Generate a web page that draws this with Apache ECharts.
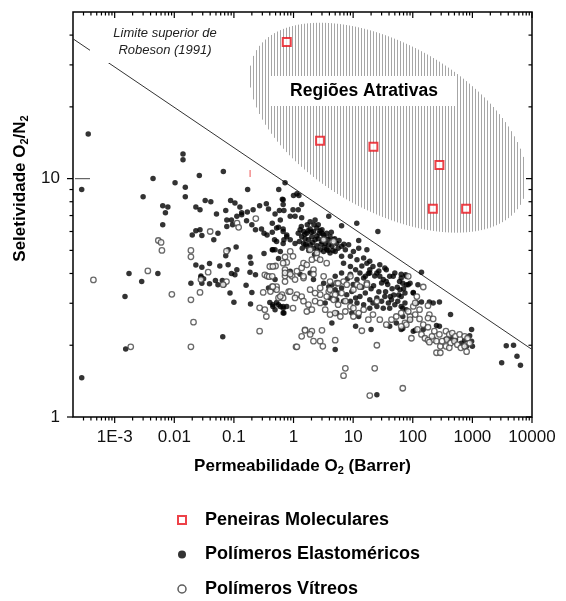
<!DOCTYPE html>
<html>
<head>
<meta charset="utf-8">
<script src="https://cdn.jsdelivr.net/npm/echarts@6/dist/echarts.min.js"></script>
<style>html,body{margin:0;padding:0;background:#fff}#c{width:566px;height:601px}</style>
</head>
<body>
<div id="c"></div>
<script>
// ---- axis ranges & tick labels ----
const xRange = [2e-4, 1e4];
const yRange = [1, 50];
const xTickLabels = {'-3':'1E-3','-2':'0.01','-1':'0.1','0':'1','1':'10','2':'100','3':'1000','4':'10000'};
const yTickLabels = {'0':'1','1':'10'};
const xMajorTicks = [1e-3, 1e-2, 1e-1, 1, 10, 100, 1000, 10000];
const yMajorTicks = [1, 10];

// ---- series names ----
const seriesNames = ['Peneiras Moleculares', 'Polímeros Elastoméricos', 'Polímeros Vítreos'];

// ---- Peneiras Moleculares (red squares) ----
const peneiras = [[0.77,37.4],[2.79,14.4],[21.9,13.6],[280,11.4],[217,7.48],[785,7.48]];

// ---- Robeson (1991) upper bound line endpoints ----
const robeson = [[2e-4,38.6],[1e4,1.92]];

// ---- "Regiões Atrativas" ellipse centre (data coords) ----
const regiaoCentro = [[38.6,16.35]];

// ---- small red mark ----
const marcaVermelha = [[0.187,10.5]];

// ---- Polímeros Elastoméricos (filled) ----
const elastomeros = [
[0.014,12.7],[0.014,12.0],[0.0044,10.0],[0.0103,9.6],[0.0153,9.2],[0.0153,8.4],[0.0263,10.3],[0.0665,10.7],[0.003,8.4],[2.8e-4,9.0],[2.8e-4,1.46],[3.6e-4,15.4],
[0.0064,7.7],[0.0078,7.6],[0.0071,7.2],[0.0064,6.4],[0.00174,4.0],[0.00284,3.7],[0.00149,3.2],[0.0053,4.0],[0.00153,1.93],[0.065,2.17],[0.17,9.0],[0.72,9.6],[0.565,9.0],
[0.033,8.1],[0.041,8.0],[0.023,7.6],[0.027,7.4],[0.051,7.1],[0.073,7.35],[0.088,8.1],[0.104,7.9],[0.126,7.6],[0.135,7.2],[0.168,7.25],[0.21,7.4],[0.27,7.7],[0.35,7.85],[0.38,7.45],[0.67,8.15],[0.69,7.35],
[0.023,6.05],[0.027,6.1],[0.029,5.77],[0.02,5.8],[0.046,5.54],[0.054,5.9],[0.076,6.7],[0.091,6.7],[0.076,6.3],[0.095,6.4],[0.112,6.95],[0.135,7.06],[0.163,6.65],[0.2,6.4],[0.23,6.1],[0.29,6.15],[0.32,5.9],[0.36,5.8],[0.44,5.95],[0.48,5.54],[0.52,6.2],[0.60,6.7],[0.67,6.0],[0.77,5.7],[0.69,5.54],
[0.109,5.17],[0.080,5.03],[0.073,4.75],[0.186,4.69],[0.193,4.42],[0.32,4.85],[0.44,5.03],[0.49,5.03],[0.56,4.62],[0.058,4.3],[0.039,4.4],[0.029,4.25],[0.023,4.34],[0.080,4.35],[0.112,4.15],[0.104,3.95],[0.091,4.0],[0.186,4.05],[0.23,3.95],[0.028,3.9],[0.031,3.8],
[0.019,3.64],[0.028,3.86],[0.029,3.64],[0.039,3.62],[0.049,3.74],[0.054,3.59],[0.064,3.74],[0.068,3.59],[0.086,3.31],[0.1,3.03],[0.16,3.57],[0.2,3.33],[0.19,2.98],[0.38,3.48],[0.47,3.44],[0.49,3.77],[0.40,3.02],[0.45,2.96],[0.52,3.02],[0.60,2.91],[0.67,2.91],[0.77,2.91],[0.49,2.82],[0.69,2.73],
[1.14,8.65],[1.0,8.5],[1.23,8.5],[0.65,8.2],[0.67,7.78],[1.37,7.78],[1.2,7.4],[0.98,7.4],[0.49,7.1],[0.58,7.35],[0.88,6.95],[1.06,6.95],[1.37,6.85],[1.9,6.6],[2.3,6.7],[3.9,6.95],[6.4,6.35],[11.5,6.5],[0.44,6.5],[0.56,6.25],[0.67,6.15],[0.77,5.8],
[1.29,6.1],[1.47,6.0],[1.67,5.9],[1.9,6.15],[2.16,6.0],[2.46,6.2],[2.8,6.05],[3.2,5.8],[3.6,5.9],[4.1,5.7],[4.7,5.54],[5.3,5.35],[1.37,5.7],[1.56,5.6],[1.78,5.54],[2.03,5.7],[2.3,5.54],[2.6,5.6],[3.0,5.45],[3.4,5.35],[3.9,5.28],[4.4,5.2],
[1.47,5.35],[1.67,5.2],[1.9,5.28],[2.16,5.1],[2.46,5.23],[2.8,5.03],[3.2,4.95],[3.6,5.06],[4.1,4.88],[5.0,4.95],[0.88,5.54],[1.06,5.35],[0.67,5.35],[0.52,5.45],[0.45,5.03],[0.6,4.95],
[1.2,5.9],[1.35,6.3],[1.55,5.85],[1.75,6.05],[2.0,5.95],[2.2,6.4],[2.45,5.75],[2.7,5.9],[3.0,6.1],[3.3,5.65],[3.8,5.55],[4.3,5.95],[1.25,5.45],[1.6,5.3],[2.1,5.4],[2.5,5.0],[2.9,5.3],[3.3,5.15],[3.8,5.0],[4.6,5.0],[5.6,5.1],[1.8,5.0],[2.25,4.8],[1.4,5.1],[3.0,5.9],[2.6,6.4],[1.7,6.4],[4.9,5.6],[5.8,5.5],[7.0,5.3],
[6.4,5.2],[7.4,5.03],[8.4,5.28],[10.1,4.95],[12.4,5.1],[9.0,4.72],[11.6,4.57],[15,4.65],[17,4.42],[19,4.5],[21.5,4.28],[28,4.35],[36,4.15],[41,3.89],[50,4.02],[64,3.83],[78,3.89],[90,3.64],[19,4.15],[25,4.02],[32,3.77],
[6.4,4.72],[6.9,4.42],[9.0,4.28],[11,4.15],[13,4.02],[16,3.89],[12.4,5.5],[26,6.0],[17,5.03],[34,4.22],
[14,4.3],[18,4.0],[23,3.9],[27,4.1],[22,3.55],[30,3.65],[38,3.6],[45,3.45],[55,3.5],[48,3.25],[35,3.35],[27,3.35],[20,3.45],[14,3.5],[10,3.6],[8,3.8],[60,3.7],[70,3.45],[42,3.2],[58,3.25],
[0.45,2.91],[0.56,2.96],[0.67,2.86],[0.67,2.73],[0.88,4.09],[1.29,3.97],[1.9,4.02],[2.16,3.77],[3.2,3.64],[3.9,3.52],[4.4,3.59],[5.0,3.42],[5.6,3.31],[6.4,3.48],[7.8,3.26],[9.5,3.36],[11,3.16],[13,3.2],[16,3.31],[19,3.1],[21.5,3.01],[25,3.16],[30,3.06],[34,3.2],[39,3.01],[44,3.1],[50,2.96],[56,3.06],[64,2.91],[74,3.01],
[41,2.86],[32,2.86],[25,2.91],[19,2.86],[15,2.96],[11.6,3.01],[9.0,3.06],[6.9,3.06],[5.3,3.1],[4.1,3.16],[3.4,3.01],[5.0,3.89],[6.4,4.02],[9.0,3.97],[11.6,3.77],[15,3.83],[19,4.02],[28,3.89],[36,3.7],[47,3.89],[64,3.97],[78,3.59],[102,3.31],[117,3.01],
[68,2.64],[90,2.56],[53,2.48],[41,2.4],[64,2.33],[102,2.29],[4.4,2.48],[5.0,1.92],[11,2.4],[20,2.33],[25,1.24],[9.5,2.73],[12.4,2.64],[5.3,2.73],
[140,4.05],[76,3.95],[68,3.64],[84,3.59],[61,3.42],[74,3.31],[64,3.2],[102,3.33],[122,3.59],[140,3.04],[190,3.04],[220,3.01],[280,3.04],[68,2.86],[78,2.82],[430,2.69],[250,2.42],[280,2.4],[110,2.31],[68,2.35],[150,2.33],
[970,2.33],[900,2.19],[970,2.08],[1000,1.98],[740,2.1],[800,1.98],[650,2.04],[430,2.16],[520,2.11],[360,2.12],[3700,1.99],[4900,2.0],[3100,1.69],[5600,1.8],[6400,1.65]
];

// ---- Polímeros Vítreos (open) ----
const vitreos = [
[4.4e-4,3.76],[0.00186,1.97],[0.0036,4.1],[0.0054,5.5],[0.006,5.4],[0.0062,5.0],[0.0091,3.27],[0.019,5.0],[0.019,4.7],[0.019,3.1],[0.021,2.5],[0.019,1.97],[0.027,3.33],[0.04,6.0],[0.27,2.29],[1.1,1.97],[1.37,2.18],[1.56,2.32],
[0.113,6.5],[0.12,6.25],[0.233,6.8],[0.075,4.96],[0.40,4.28],[0.5,4.3],[0.72,4.69],[0.77,4.45],[0.33,3.95],[0.36,3.9],[0.037,4.05],[0.72,3.9],
[0.028,3.77],[0.075,3.7],[0.066,3.59],[0.39,3.88],[0.52,3.52],[0.41,3.36],[0.31,3.33],[0.27,2.87],[0.35,2.64],[0.33,2.82],[0.56,3.16],[0.64,3.26],[0.83,3.36],
[0.88,4.95],[0.98,4.72],[0.67,4.42],[0.72,4.15],[0.83,4.02],[0.95,3.89],[1.14,4.09],[1.37,4.22],[1.47,4.42],[1.67,4.35],[2.03,4.57],[2.46,4.65],[3.2,5.54],[4.7,5.45],[1.06,3.77],[0.72,3.7],[1.47,3.83],[2.16,4.15],[2.8,4.57],[3.6,4.42],[3.2,3.89],[4.1,3.7],[5.3,3.64],[6.9,3.7],[9.0,3.89],[11.6,3.59],[17,3.64],
[0.45,4.28],[0.44,3.89],[0.52,3.42],[0.67,3.16],[0.88,3.36],[1.14,3.26],[2.8,3.26],[3.9,3.36],[5.0,3.26],[6.4,3.31],[1.9,5.03],[2.46,4.88],[0.44,3.52],
[0.72,4.02],[0.88,3.97],[1.47,3.89],[2.16,3.97],[0.45,3.52],[0.6,3.2],[1.06,3.16],[1.37,3.2],[1.47,3.06],[1.78,2.96],[2.3,3.06],[2.8,3.01],[3.4,2.82],[4.1,2.69],[5.0,2.73],[6.1,2.64],[7.4,2.77],[9.0,2.91],[10.1,2.64],[12.4,2.73],[15,2.82],[18,2.56],[21.5,2.69],[28,2.56],[36,2.44],[44,2.56],[53,2.64],[64,2.73],[74,2.48],[90,2.64],[102,2.91],[117,3.2],[84,2.77],
[25,3.06],[10.1,2.86],[7.4,3.06],[5.6,2.96],[4.7,3.1],[3.6,3.2],[2.8,3.48],[2.3,3.31],[1.9,3.42],[5.6,3.64],[7.8,3.59],[10.1,3.42],[13,3.52],[17,3.59],[4.1,3.42],[0.98,2.86],[1.67,2.77],[2.03,2.82],
[1.56,2.31],[2.03,2.29],[1.9,2.22],[3.0,2.31],[2.16,2.08],[2.8,2.08],[3.1,1.98],[1.14,1.97],[5.0,2.1],[14,2.3],[25,2.0],[7.4,1.6],[6.9,1.49],[23,1.6],[68,1.32],[19,1.23],
[84,3.89],[150,3.51],[110,3.01],[130,2.82],[180,2.93],[190,2.69],[110,2.69],[90,2.56],[78,2.44],[64,2.4],[130,2.58],[180,2.6],[220,2.58],[150,2.44],[180,2.38],[120,2.33],[140,2.22],[160,2.14],[180,2.1],[220,2.11],[210,2.18],[230,2.29],[280,2.22],[190,2.06],[250,2.08],[95,2.14],[290,1.98],[250,1.86],[290,1.86],
[360,2.29],[410,2.22],[460,2.25],[520,2.18],[610,2.22],[740,2.18],[830,2.14],[370,2.11],[430,2.04],[500,2.08],[560,2.01],[640,1.95],[740,1.98],[800,1.88],[360,1.98],[310,2.08],[900,2.04],[410,1.95]
];

// ---- build tick marks (values only; drawn through the axes' scales) ----
function minorTicks(lo, hi) {
  const out = [];
  for (let d = Math.floor(Math.log10(lo)); d <= Math.ceil(Math.log10(hi)); d++) {
    for (let k = 2; k <= 9; k++) {
      const v = k * Math.pow(10, d);
      if (v > lo * 1.0001 && v < hi * 0.9999) out.push(v);
    }
  }
  return out;
}
const xMinorTicks = minorTicks(xRange[0], xRange[1]);
const yMinorTicks = minorTicks(yRange[0], yRange[1]);
const tickData = [];
// side: 0 bottom(out), 1 top(in), 2 left(out), 3 right(in), 4 left inner long
xMajorTicks.forEach(v => { tickData.push([v, yRange[0], 0, 1]); tickData.push([v, yRange[1], 1, 1]); });
xMinorTicks.forEach(v => { tickData.push([v, yRange[0], 0, 0]); tickData.push([v, yRange[1], 1, 0]); });
yMajorTicks.forEach(v => { tickData.push([xRange[0], v, 2, 1]); tickData.push([xRange[1], v, 3, 1]); });
yMinorTicks.forEach(v => { tickData.push([xRange[0], v, 2, 0]); tickData.push([xRange[1], v, 3, 0]); });
tickData.push([xRange[0], 10, 4, 1]);

const FONT = 'Liberation Sans, Arial, Helvetica, sans-serif';
const chart = echarts.init(document.getElementById('c'), null, {renderer: 'canvas'});

function logKey(v) {
  const l = Math.log10(v);
  const r = Math.round(l);
  return Math.abs(l - r) < 1e-6 ? String(r) : null;
}

const option = {
  animation: false,
  backgroundColor: '#fff',
  grid: {left: 73, top: 12, width: 459, height: 405, show: true, borderColor: '#000', borderWidth: 1.5, backgroundColor: 'transparent'},
  xAxis: {
    type: 'log', logBase: 10, min: xRange[0], max: xRange[1],
    axisLine: {show: false}, axisTick: {show: false}, splitLine: {show: false}, minorTick: {show: false},
    axisLabel: {
      show: true, margin: 12, fontSize: 17, color: '#111', fontFamily: FONT, showMaxLabel: true, showMinLabel: true,
      formatter: v => { const k = logKey(v); return k !== null && xTickLabels[k] ? xTickLabels[k] : ''; }
    },
    name: 'Permeabilidade O{s|2} (Barrer)', nameLocation: 'middle', nameGap: 40,
    nameTextStyle: {fontSize: 17, fontWeight: 'bold', color: '#000', fontFamily: FONT,
      rich: {s: {fontSize: 11, fontWeight: 'bold', fontFamily: FONT, color: '#000', padding: [8, 0, 0, 0]}}}
  },
  yAxis: {
    type: 'log', logBase: 10, min: yRange[0], max: yRange[1],
    axisLine: {show: false}, axisTick: {show: false}, splitLine: {show: false}, minorTick: {show: false},
    axisLabel: {
      show: true, margin: 13, fontSize: 17, color: '#111', fontFamily: FONT,
      formatter: v => { const k = logKey(v); return k !== null && yTickLabels[k] ? yTickLabels[k] : ''; }
    },
    name: 'Seletividade O{s|2}/N{s|2}', nameLocation: 'middle', nameGap: 41, nameRotate: 90,
    nameTextStyle: {fontSize: 17, fontWeight: 'bold', color: '#000', fontFamily: FONT, padding: [0, 0, 0, 52],
      rich: {s: {fontSize: 11, fontWeight: 'bold', fontFamily: FONT, color: '#000', padding: [8, 0, 0, 0]}}}
  },
  legend: {
    orient: 'vertical', left: 177, top: 510, padding: 0, itemWidth: 8, itemHeight: 8, itemGap: 14.5,
    selectedMode: false,
    textStyle: {fontSize: 18, fontWeight: 'bold', color: '#000', fontFamily: FONT, lineHeight: 20, padding: [0, 0, 0, 14]},
    data: [
      {name: seriesNames[0], icon: 'rect', itemStyle: {color: '#fff', borderColor: '#e8121a', borderWidth: 2}},
      {name: seriesNames[1], icon: 'circle', itemStyle: {color: '#000', borderWidth: 0}},
      {name: seriesNames[2], icon: 'circle', itemStyle: {color: '#fff', borderColor: '#333', borderWidth: 1.5}}
    ]
  },
  graphic: [
    {type: 'rect', z: 100, zlevel: 0, shape: {x: 90, y: 22, width: 138, height: 41}, style: {fill: '#fff'}},
    {type: 'text', z: 101, x: 165, y: 33, style: {text: 'Limite superior de', font: 'italic 13px ' + FONT, fill: '#222', align: 'center', verticalAlign: 'middle'}},
    {type: 'text', z: 101, x: 165, y: 50, style: {text: 'Robeson (1991)', font: 'italic 13px ' + FONT, fill: '#222', align: 'center', verticalAlign: 'middle'}},
    {type: 'rect', z: 100, shape: {x: 271, y: 76, width: 186, height: 30}, style: {fill: '#fff'}},
    {type: 'text', z: 101, x: 364, y: 91, style: {text: 'Regiões Atrativas', font: 'bold 17.5px ' + FONT, fill: '#000', align: 'center', verticalAlign: 'middle'}}
  ],
  series: [
    {
      type: 'custom', name: 'regiao', silent: true, z: 1, clip: false,
      data: regiaoCentro,
      renderItem: function (params, api) {
        const c = api.coord([api.value(0), api.value(1)]);
        const a = 153, b = 83, th = 30 * Math.PI / 180;
        const cs = Math.cos(th), sn = Math.sin(th);
        const A = sn * sn / (a * a) + cs * cs / (b * b);
        const hw = Math.sqrt(a * a * cs * cs + b * b * sn * sn);
        const children = [];
        for (let dx = -hw + 1; dx <= hw - 1; dx += 3) {
          const B = 2 * dx * (cs * sn / (a * a) - sn * cs / (b * b));
          const C = dx * dx * (cs * cs / (a * a) + sn * sn / (b * b)) - 1;
          const disc = B * B - 4 * A * C;
          if (disc <= 0) continue;
          const r = Math.sqrt(disc);
          const y1 = (-B - r) / (2 * A), y2 = (-B + r) / (2 * A);
          const x = Math.round(c[0] + dx) + 0.5;
          children.push({type: 'line', shape: {x1: x, y1: c[1] + y1, x2: x, y2: c[1] + y2}, style: {stroke: '#a6a6a6', lineWidth: 1}});
        }
        return {type: 'group', children: children};
      }
    },
    {
      type: 'line', name: 'Robeson', data: robeson, symbol: 'none', silent: true, z: 2,
      lineStyle: {color: '#333', width: 1}
    },
    {
      type: 'scatter', name: seriesNames[1], data: elastomeros, symbol: 'circle', symbolSize: 5.5, z: 3,
      itemStyle: {color: '#000'}
    },
    {
      type: 'scatter', name: seriesNames[2], data: vitreos, symbol: 'circle', symbolSize: 5.5, z: 4,
      itemStyle: {color: '#fff', borderColor: '#444', borderWidth: 1.3}
    },
    {
      type: 'scatter', name: seriesNames[0], data: peneiras, symbol: 'rect', symbolSize: 8, z: 5,
      itemStyle: {color: '#fff', borderColor: '#e8121a', borderWidth: 2}
    },
    {
      type: 'scatter', name: 'marca', data: marcaVermelha, symbol: 'rect', symbolSize: [1.5, 7], z: 5, silent: true,
      itemStyle: {color: '#f07070'}
    },
    {
      type: 'custom', name: 'ticks', silent: true, z: 6, clip: false,
      data: tickData,
      renderItem: function (params, api) {
        const p = api.coord([api.value(0), api.value(1)]);
        const side = api.value(2), major = api.value(3);
        const len = major ? 6 : 3.5;
        let x1 = p[0], y1 = p[1], x2 = p[0], y2 = p[1], col = '#000';
        if (side === 0) { y2 = p[1] + len; }
        else if (side === 1) { y2 = p[1] + len; }
        else if (side === 2) { x2 = p[0] - len; }
        else if (side === 3) { x2 = p[0] - len; }
        else { x1 = p[0] + 2; x2 = p[0] + 17; col = '#666'; }
        return {type: 'line', shape: {x1: x1, y1: y1, x2: x2, y2: y2}, style: {stroke: col, lineWidth: 1.2}};
      }
    }
  ]
};
chart.setOption(option);
</script>
</body>
</html>
